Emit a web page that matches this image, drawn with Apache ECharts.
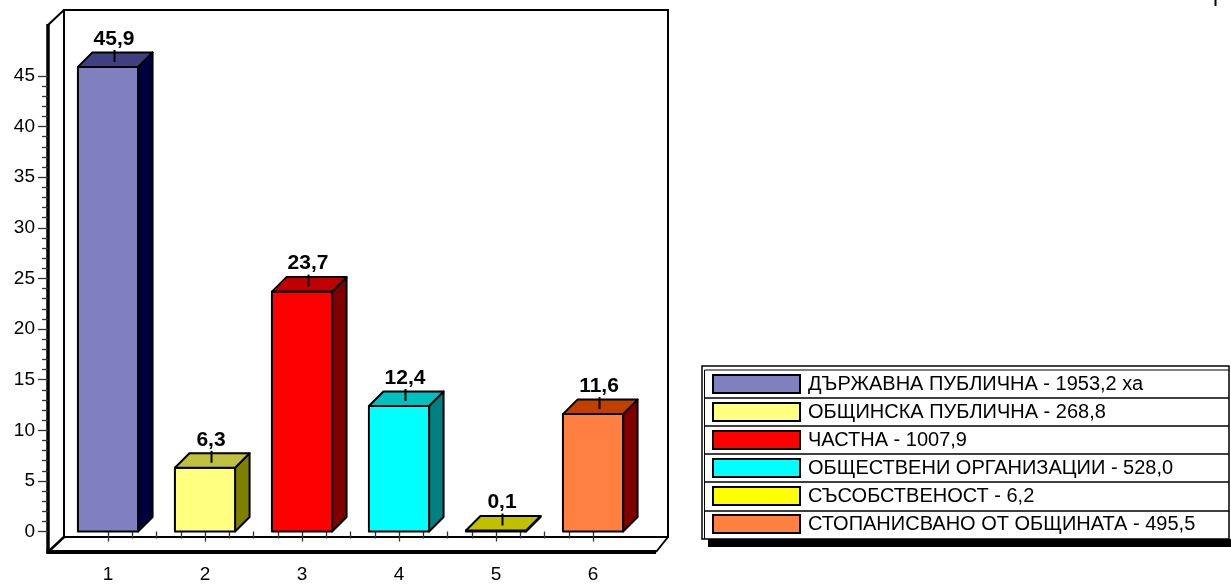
<!DOCTYPE html>
<html>
<head>
<meta charset="utf-8">
<script src="https://cdn.jsdelivr.net/npm/echarts@6/dist/echarts.min.js"></script>
<style>
  html, body { margin: 0; padding: 0; background: #fff; }
  #chart { width: 1231px; height: 585px; }
</style>
</head>
<body>
<div id="chart"></div>
<script>
// Ownership categories (x positions) and their shares, %
const CATEGORIES = [1, 2, 3, 4, 5, 6];
const SHARES = [45.9, 6.3, 23.7, 12.4, 0.1, 11.6];

// Legend labels: ownership type and area
const LEGEND_LABELS = [
  'ДЪРЖАВНА ПУБЛИЧНА - 1953,2 ха',
  'ОБЩИНСКА ПУБЛИЧНА - 268,8',
  'ЧАСТНА - 1007,9',
  'ОБЩЕСТВЕНИ ОРГАНИЗАЦИИ - 528,0',
  'СЪСОБСТВЕНОСТ - 6,2',
  'СТОПАНИСВАНО ОТ ОБЩИНАТА - 495,5'
];

// Face colours of each 3D column: front, top, side
const FRONT_COLORS = ['#8080C0', '#FFFF80', '#FF0000', '#00FFFF', '#FFFF00', '#FF8040'];
const TOP_COLORS   = ['#404080', '#C0C040', '#C00000', '#00C0C0', '#C0C000', '#C04000'];
const SIDE_COLORS  = ['#000040', '#808000', '#800000', '#008080', '#808000', '#800000'];

const SANS = '"Liberation Sans", Arial, sans-serif';
const DEPTH = 14.5;

function fmt(v) {
  return v.toFixed(1).replace('.', ',');
}

// Draws one column as a box with front, top and side faces, plus its value label
function boxRenderer(i) {
  return function (params, api) {
    const x = api.value(0);
    const v = api.value(1);
    const top = api.coord([x, v]);
    const base = api.coord([x, 0]);
    const half = api.size([1, 0])[0] * 0.31;
    const xc = top[0];
    const x0 = xc - half, x1 = xc + half;
    const yt = top[1], yb = base[1];
    const d = DEPTH;
    const edge = { stroke: '#000', lineWidth: 2, lineJoin: 'round' };
    return {
      type: 'group',
      children: [
        {
          type: 'polygon',
          shape: { points: [[x1, yt], [x1 + d, yt - d], [x1 + d, yb - d], [x1, yb]] },
          style: Object.assign({ fill: SIDE_COLORS[i] }, edge)
        },
        {
          type: 'rect',
          shape: { x: x0, y: yt, width: x1 - x0, height: Math.max(yb - yt, 0.5) },
          style: Object.assign({ fill: FRONT_COLORS[i] }, edge)
        },
        {
          type: 'polygon',
          shape: { points: [[x0, yt], [x0 + d, yt - d], [x1 + d, yt - d], [x1, yt]] },
          style: Object.assign({ fill: TOP_COLORS[i] }, edge)
        },
        {
          type: 'line',
          shape: { x1: xc + 6.5, y1: yt - 17, x2: xc + 6.5, y2: yt - 5 },
          style: { stroke: '#000', lineWidth: 2 }
        },
        {
          type: 'text',
          x: xc + 6,
          y: yt - 17.5,
          style: {
            text: fmt(v),
            align: 'center',
            verticalAlign: 'bottom',
            font: 'bold 21px ' + SANS,
            fill: '#000'
          }
        }
      ]
    };
  };
}

const series = SHARES.map(function (v, i) {
  return {
    type: 'custom',
    name: LEGEND_LABELS[i],
    coordinateSystem: 'cartesian2d',
    clip: false,
    itemStyle: { color: FRONT_COLORS[i] },
    data: [[CATEGORIES[i], v]],
    renderItem: boxRenderer(i)
  };
});

// Back wall, floor and front axis lines of the 3D frame
const FRAME = [
  { type: 'rect', shape: { x: 64, y: 10, width: 604, height: 527 }, style: { fill: '#fff', stroke: '#000', lineWidth: 2 } },
  { type: 'line', shape: { x1: 48, y1: 25, x2: 64, y2: 10 }, style: { stroke: '#000', lineWidth: 2 } },
  { type: 'line', shape: { x1: 48, y1: 552, x2: 64, y2: 537 }, style: { stroke: '#000', lineWidth: 2.5 } },
  { type: 'line', shape: { x1: 656, y1: 552, x2: 668, y2: 537 }, style: { stroke: '#000', lineWidth: 2 } },
  { type: 'line', shape: { x1: 48, y1: 24, x2: 48, y2: 553.5 }, style: { stroke: '#000', lineWidth: 3.5 } },
  { type: 'line', shape: { x1: 46.5, y1: 552, x2: 656, y2: 552 }, style: { stroke: '#000', lineWidth: 4 } }
];

// Legend frame with a row for each entry and a drop shadow
const LEGEND_BOX = [
  { type: 'rect', shape: { x: 708, y: 539, width: 530, height: 8 }, style: { fill: '#000' } },
  { type: 'rect', shape: { x: 702, y: 366, width: 527, height: 173 }, style: { fill: '#fff', stroke: '#000', lineWidth: 1.5 } },
  { type: 'line', shape: { x1: 704.5, y1: 370, x2: 704.5, y2: 539 }, style: { stroke: '#000', lineWidth: 1 } },
  { type: 'line', shape: { x1: 704.5, y1: 370, x2: 1229, y2: 370 }, style: { stroke: '#000', lineWidth: 1 } }
].concat([398, 426, 454, 482, 511].map(function (y) {
  return { type: 'line', shape: { x1: 704.5, y1: y, x2: 1229, y2: y }, style: { stroke: '#000', lineWidth: 1.5 } };
}));

const chart = echarts.init(document.getElementById('chart'), null, { renderer: 'canvas' });
chart.setOption({
  animation: false,
  backgroundColor: '#fff',
  grid: { left: 108, right: 638, top: 76, bottom: 53.5, containLabel: false, outerBoundsMode: 'none' },
  xAxis: {
    type: 'value',
    min: 1, max: 6, interval: 1,
    position: 'bottom',
    offset: 20.5,
    axisLine: { show: false },
    axisTick: { show: true, length: 10, lineStyle: { color: '#333', width: 1.3 } },
    minorTick: { show: true, splitNumber: 4, length: 7, lineStyle: { color: '#333', width: 1.3 } },
    splitLine: { show: false },
    axisLabel: { color: '#000', fontSize: 19, fontFamily: SANS, margin: 13 }
  },
  yAxis: {
    type: 'value',
    min: 0, max: 45, interval: 5,
    position: 'left',
    offset: 60,
    axisLine: { show: false },
    axisTick: { show: true, length: 10, lineStyle: { color: '#333', width: 1.3 } },
    minorTick: { show: true, splitNumber: 5, length: 6, lineStyle: { color: '#333', width: 1.3 } },
    splitLine: { show: false },
    axisLabel: { color: '#000', fontSize: 19, fontFamily: SANS, margin: 13 }
  },
  legend: {
    orient: 'vertical',
    left: 712, top: 374,
    padding: 0,
    itemWidth: 87, itemHeight: 18, itemGap: 8,
    icon: 'rect',
    selectedMode: false,
    itemStyle: { borderColor: '#000', borderWidth: 2 },
    textStyle: { color: '#000', fontSize: 20, lineHeight: 20, fontFamily: SANS, padding: [0, 0, 0, 3] },
    data: LEGEND_LABELS
  },
  graphic: [
    { type: 'group', z: -10, children: FRAME.concat(LEGEND_BOX) },
    { type: 'line', shape: { x1: 1215.5, y1: 0, x2: 1215.5, y2: 6 }, style: { stroke: '#000', lineWidth: 2 } }
  ],
  series: series
});
</script>
</body>
</html>
